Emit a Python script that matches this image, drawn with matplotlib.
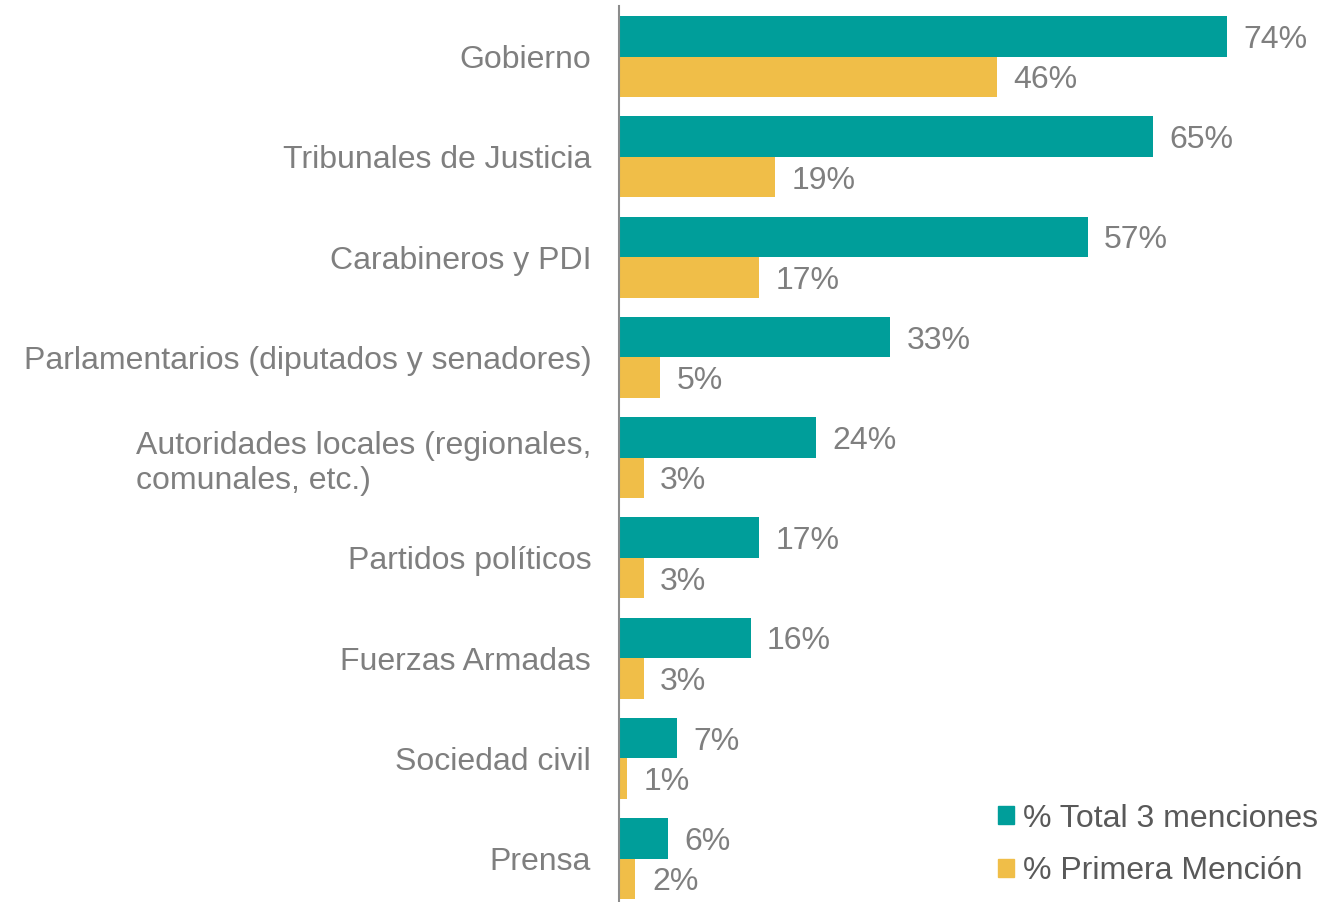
import numpy as np
import matplotlib.pyplot as plt
from matplotlib.patches import Patch

plt.rcParams['font.family'] = ['Liberation Sans', 'DejaVu Sans']

categories = ["Gobierno", "Tribunales de Justicia", "Carabineros y PDI",
              "Parlamentarios (diputados y senadores)",
              "Autoridades locales (regionales,\ncomunales, etc.)",
              "Partidos políticos", "Fuerzas Armadas", "Sociedad civil", "Prensa"]
total_3 = [74, 65, 57, 33, 24, 17, 16, 7, 6]
primera = [46, 19, 17, 5, 3, 3, 3, 1, 2]
series_names = ["% Total 3 menciones", "% Primera Mención"]

teal = "#009E9A"
yellow = "#F0BE48"
label_gray = "#7F7F7F"
legend_gray = "#595959"
fs = 23

W, H = 1341, 902
fig = plt.figure(figsize=(W / 100, H / 100), dpi=100)
ax = fig.add_axes([619 / W, 0, (W - 619) / W, (902 - 6) / H])

y = np.arange(len(categories))
h = 0.405
ax.barh(y - h / 2, total_3, height=h, color=teal)
ax.barh(y + h / 2, primera, height=h, color=yellow)

for yi, v in zip(y, total_3):
    ax.text(v + 2.0, yi - h / 2, f"{v}%", va="center_baseline", ha="left",
            fontsize=fs, color=label_gray)
for yi, v in zip(y, primera):
    ax.text(v + 2.0, yi + h / 2, f"{v}%", va="center_baseline", ha="left",
            fontsize=fs, color=label_gray)

ax.set_xlim(0, (W - 619) / 8.22)
ax.set_ylim(8.433, -0.505)
ax.set_yticks(y)
ax.set_yticklabels(categories, fontsize=fs, color=label_gray)
ax.tick_params(axis="y", length=0, pad=20)
for lbl in ax.get_yticklabels():
    lbl.set_multialignment("left")
ax.set_xticks([])
for s in ["top", "right", "bottom"]:
    ax.spines[s].set_visible(False)
ax.spines["left"].set_color("#8C8C8C")
ax.spines["left"].set_linewidth(1.5)

handles = [Patch(color=teal), Patch(color=yellow)]
leg = fig.legend(handles, series_names, loc="lower right",
                 bbox_to_anchor=(1318 / W, 16 / H),
                 frameon=False, fontsize=fs, handlelength=0.5, handleheight=0.5,
                 handletextpad=0.28, labelspacing=0.7, borderpad=0, borderaxespad=0)
for t in leg.get_texts():
    t.set_color(legend_gray)

fig.savefig("out.png", dpi=100)
